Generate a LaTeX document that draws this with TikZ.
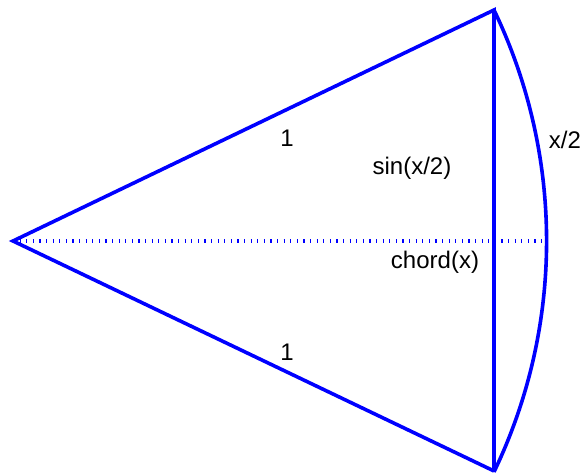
\documentclass[tikz,border=0pt]{standalone}
\usepackage{fontspec}
\setmainfont{Liberation Sans}
\begin{document}
\begin{tikzpicture}[x=1pt,y=1pt,
  edge/.style={draw=blue, line width=3.6pt, line join=miter},
  dotline/.style={draw=blue, line width=3.5pt, dash pattern=on 1.2pt off 5.4pt},
  lab/.style={inner sep=0pt, anchor=center, font=\fontsize{24}{28}\selectfont}]
\useasboundingbox (0,0) rectangle (584,475);
\coordinate (A) at (13,234);
\coordinate (T) at (494,465);
\coordinate (B) at (494,4);
\coordinate (M) at (543,234);
\draw[dotline] (A) -- (M);
\draw[edge] (B) -- (A) -- (T) -- (B);
\draw[edge] (T) arc[start angle=25.65, end angle=-25.65, radius=533.6];
\node[lab] (one1) at (287,336.5) {1};
\node[lab] (one2) at (287,123) {1};
\node[lab] (sin) at (412,306.5) {sin(x/2)};
\node[lab] (chord) at (435,213) {chord(x)};
\node[lab] (half) at (565,335) {x/2};
\end{tikzpicture}
\end{document}
